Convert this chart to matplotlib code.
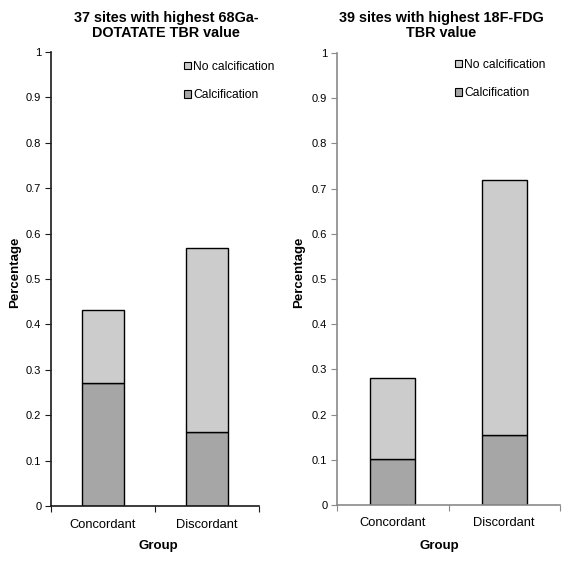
import matplotlib
matplotlib.use("Agg")
import matplotlib.pyplot as plt
from matplotlib.patches import Patch

plt.rcParams['font.family'] = ['Liberation Sans', 'DejaVu Sans']

groups = ["Concordant", "Discordant"]
left_calc = [10/37, 6/37]
left_nocalc = [6/37, 15/37]
right_calc = [4/39, 6/39]
right_nocalc = [7/39, 22/39]
yticks = [0, 0.1, 0.2, 0.3, 0.4, 0.5, 0.6, 0.7, 0.8, 0.9, 1]
ytick_labels = ["0", "0.1", "0.2", "0.3", "0.4", "0.5", "0.6", "0.7", "0.8", "0.9", "1"]
titles = ["37 sites with highest 68Ga-\nDOTATATE TBR value",
          "39 sites with highest 18F-FDG\nTBR value"]

W, H = 570, 563
fig = plt.figure(figsize=(W/100, H/100), dpi=100)

def px_axes(x0, x1, ytop, ybot):
    return fig.add_axes([x0/W, (H-ybot)/H, (x1-x0)/W, (ybot-ytop)/H])

light = "#cccccc"
dark = "#a6a6a6"

panels = [
    dict(box=(51, 259, 52, 506), calc=left_calc, nocalc=left_nocalc, spine="#1a1a1a",
         title=titles[0], tx=166, leg=(0.64, 0.98), ylab_x=15, grp_x=158),
    dict(box=(337, 560, 53, 505), calc=right_calc, nocalc=right_nocalc, spine="#8a8a8a",
         title=titles[1], tx=441, leg=(0.53, 0.987), ylab_x=299, grp_x=439),
]

for p in panels:
    ax = px_axes(*p["box"])
    xs = [0.5, 1.5]
    ax.bar(xs, p["calc"], width=0.4, color=dark, edgecolor="black", linewidth=1.0,
           label="Calcification")
    ax.bar(xs, p["nocalc"], bottom=p["calc"], width=0.4, color=light, edgecolor="black",
           linewidth=1.0, label="No calcification")
    ax.set_xlim(0, 2)
    ax.set_ylim(0, 1)
    ax.set_yticks(yticks)
    ax.set_yticklabels(ytick_labels, fontsize=8)
    ax.set_xticks([0, 1, 2])
    ax.set_xticklabels([])
    ax.set_xticks(xs, minor=True)
    ax.set_xticklabels(groups, minor=True, fontsize=9.3)
    ax.tick_params(axis='x', which='minor', length=0, pad=9)
    ax.tick_params(axis='x', which='major', length=4, direction='out', color=p["spine"])
    ax.tick_params(axis='y', length=4, direction='out', color=p["spine"], pad=3)
    for s in ["top", "right"]:
        ax.spines[s].set_visible(False)
    for s in ["left", "bottom"]:
        ax.spines[s].set_color(p["spine"])
        ax.spines[s].set_linewidth(1.2)
    handles = [Patch(facecolor=light, edgecolor="black", linewidth=0.8, label="No calcification"),
               Patch(facecolor=dark, edgecolor="black", linewidth=0.8, label="Calcification")]
    ax.legend(handles=handles, loc="upper left", bbox_to_anchor=p["leg"], frameon=False,
              fontsize=8.7, handlelength=0.55, handleheight=0.55, handletextpad=0.2,
              labelspacing=1.35, borderaxespad=0, borderpad=0)
    fig.text(p["tx"]/W, 1 - 25.5/H, p["title"], ha="center", va="center", fontsize=10.4,
             fontweight="bold", linespacing=1.15)
    fig.text(p["ylab_x"]/W, 1 - 272/H, "Percentage", rotation=90, ha="center", va="center",
             fontsize=9.5, fontweight="bold")
    fig.text(p["grp_x"]/W, 1 - 546/H, "Group", ha="center", va="center",
             fontsize=9.5, fontweight="bold")

fig.savefig("out.png", dpi=100)
